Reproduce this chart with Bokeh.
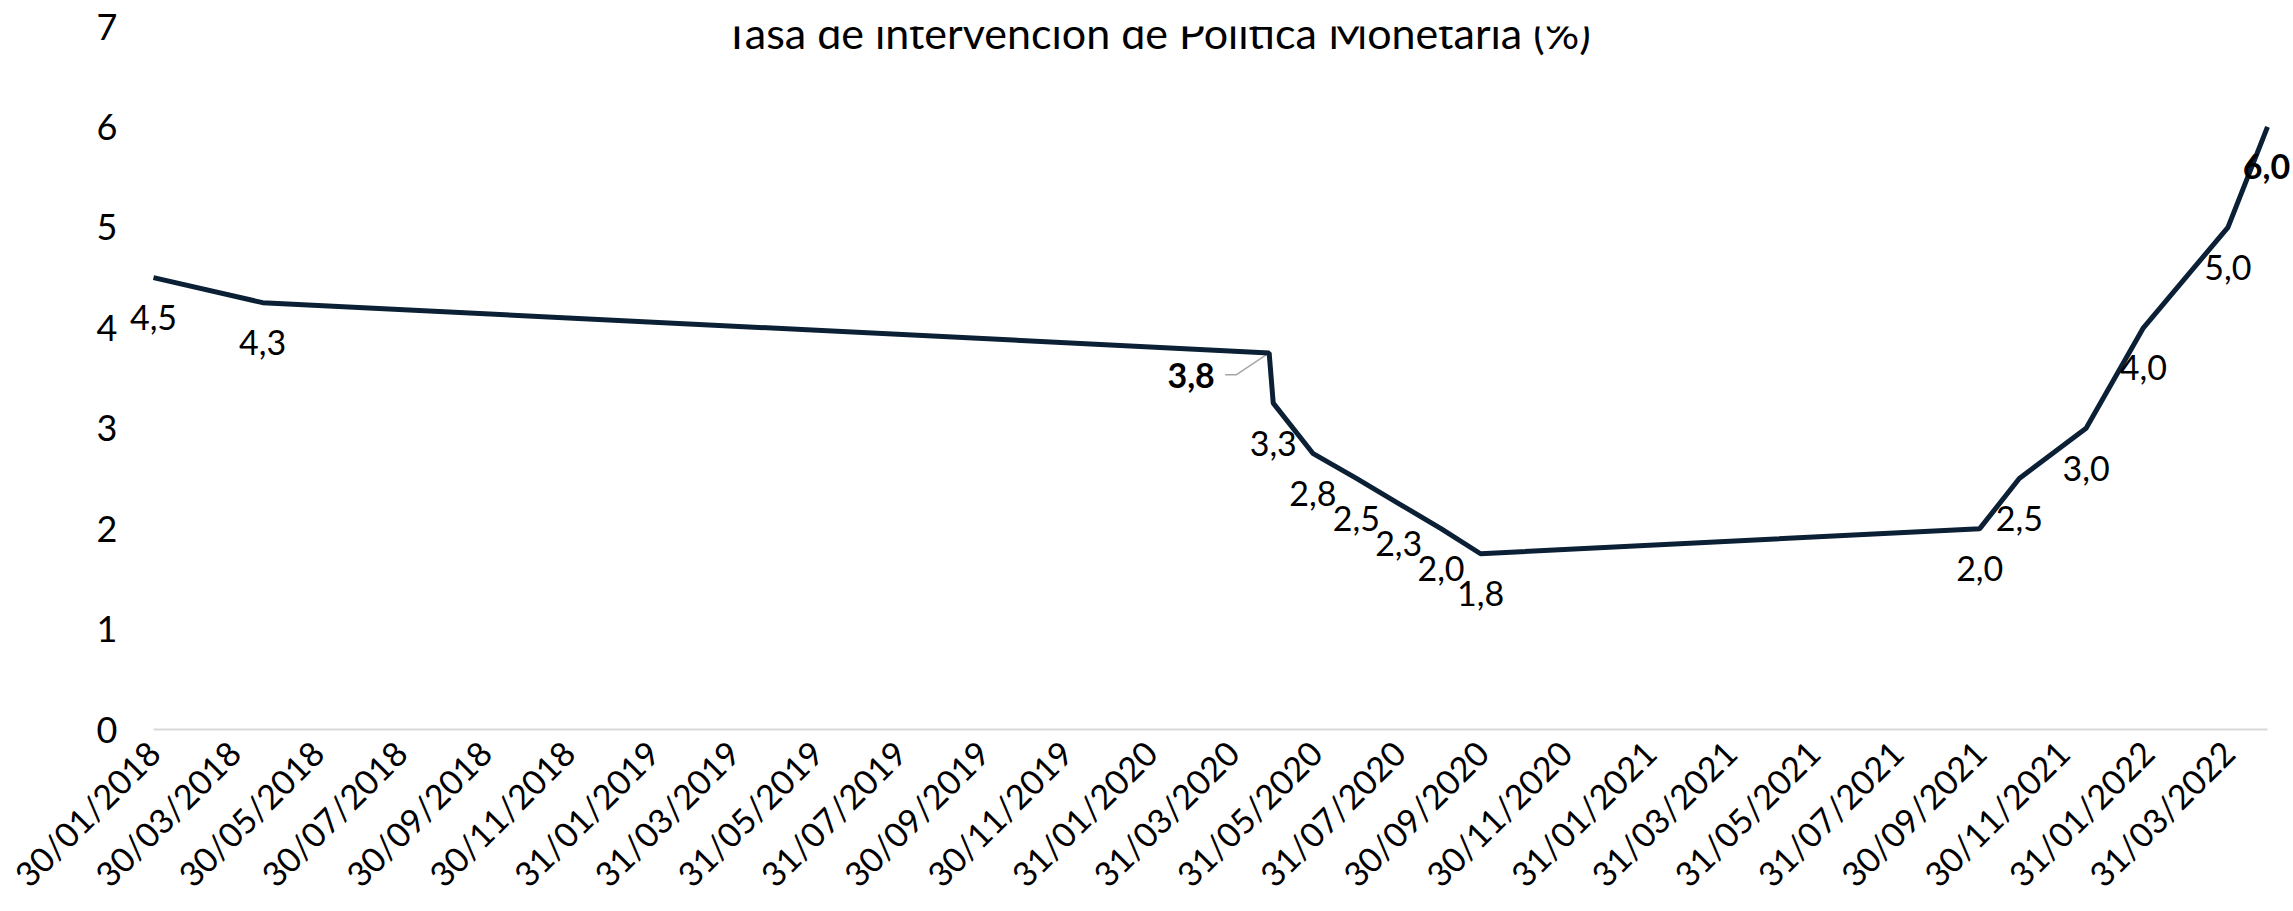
import pandas as pd
from math import pi
from bokeh.plotting import figure
from bokeh.core.properties import value
from bokeh.models import (ColumnDataSource, Range1d, FixedTicker,
                          DatetimeTickFormatter, LabelSet, Label)
from bokeh.embed import file_html
from bokeh.resources import INLINE

# ---------------- data ----------------
dates = ["2018-01-30", "2018-04-20", "2020-04-27", "2020-04-30", "2020-05-29",
         "2020-06-30", "2020-07-31", "2020-08-31", "2020-09-29", "2021-09-30",
         "2021-10-29", "2021-12-17", "2022-01-28", "2022-03-31", "2022-04-29"]
rates = [4.5, 4.25, 3.75, 3.25, 2.75, 2.5, 2.25, 2.0, 1.75, 2.0,
         2.5, 3.0, 4.0, 5.0, 6.0]
rate_labels = ["4,5", "4,3", "3,8", "3,3", "2,8", "2,5", "2,3", "2,0", "1,8",
               "2,0", "2,5", "3,0", "4,0", "5,0", "6,0"]
tick_dates = ["2018-01-30", "2018-03-30", "2018-05-30", "2018-07-30", "2018-09-30",
              "2018-11-30", "2019-01-31", "2019-03-31", "2019-05-31", "2019-07-31",
              "2019-09-30", "2019-11-30", "2020-01-31", "2020-03-31", "2020-05-31",
              "2020-07-31", "2020-09-30", "2020-11-30", "2021-01-31", "2021-03-31",
              "2021-05-31", "2021-07-31", "2021-09-30", "2021-11-30", "2022-01-31",
              "2022-03-31"]
y_ticks = [0, 1, 2, 3, 4, 5, 6, 7]
title_text = "Tasa de intervención de Politica Monetaría (%)"

# ---------------- layout constants (page pixels) ----------------
W, H = 2293, 911
FL, FR, FT, FB = 125, 2293, 26, 733      # frame edges
X0_PX, X1_PX, Y0_PX = 153, 2267, 730     # where first/last date and y=0 fall

LINE_COLOR = "#0b1f35"
TEXT_COLOR = "#000000"
FONT = "Lato"

x = pd.to_datetime(dates)
x_first, x_last = x[0], x[-1]
ms0 = x_first.value / 1e6
ms1 = x_last.value / 1e6
ms_per_px = (ms1 - ms0) / (X1_PX - X0_PX)
y_per_px = 7.0 / (Y0_PX - FT)

x_lo = ms0 - (X0_PX - FL) * ms_per_px
x_hi = ms1 + (FR - X1_PX) * ms_per_px
y_lo = -(FB - Y0_PX) * y_per_px

src = ColumnDataSource(dict(x=x, y=rates, t=rate_labels))

p = figure(width=W, height=H, x_axis_type="datetime",
           output_backend="svg", toolbar_location=None,
           x_range=Range1d(x_lo, x_hi), y_range=Range1d(y_lo, 7),
           min_border_left=FL, min_border_right=W - FR,
           min_border_top=FT, min_border_bottom=H - FB)
p.outline_line_color = None
p.xgrid.visible = False
p.ygrid.visible = False
p.background_fill_color = "white"
p.border_fill_color = "white"

# baseline grid line at 0, spanning the data period
p.line([x_first, x_last], [0, 0], line_color="#d9d9d9", line_width=2)

# leader line for the 3,8 label
i38 = 2
px38 = x[i38].value / 1e6
py38 = rates[i38]
p.line([px38 - 44 * ms_per_px, px38 - 33 * ms_per_px, px38],
       [py38 - 22 * y_per_px, py38 - 22 * y_per_px, py38],
       line_color="#a6a6a6", line_width=1.5)

p.line("x", "y", source=src, line_color=LINE_COLOR, line_width=5)

# data labels
i_last = len(rates) - 1
bold_idx = [i38, i_last]
norm_idx = [i for i in range(len(rates)) if i not in bold_idx]
src_norm = ColumnDataSource(dict(x=[x[i] for i in norm_idx],
                                 y=[rates[i] for i in norm_idx],
                                 t=[rate_labels[i] for i in norm_idx]))
p.add_layout(LabelSet(x="x", y="y", text="t", source=src_norm,
                      text_align="center", text_baseline="middle",
                      y_offset=-40, text_font=value(FONT),
                      text_font_size=value("34px"),
                      text_color=value(TEXT_COLOR)))
p.add_layout(Label(x=ms1, y=rates[i_last], text=rate_labels[i_last],
                   text_align="center", text_baseline="middle",
                   x_offset=-1, y_offset=-40, text_font=FONT,
                   text_font_size="34px", text_font_style="bold",
                   text_color=TEXT_COLOR))
p.add_layout(Label(x=px38, y=py38, text=rate_labels[i38],
                   text_align="center", text_baseline="middle",
                   x_offset=-78, y_offset=-23, text_font=FONT,
                   text_font_size="34px", text_font_style="bold",
                   text_color=TEXT_COLOR))

# title (partly cut at the top, as in the original)
p.add_layout(Label(x=ms0 + (1157 - X0_PX) * ms_per_px, y=7 - 6 * y_per_px,
                   text=title_text, text_align="center",
                   text_baseline="alphabetic", text_font=FONT,
                   text_font_size="43px", text_color=TEXT_COLOR))

# axes
tick_ms = [pd.Timestamp(d).value / 1e6 for d in tick_dates]
xa = p.xaxis[0]
xa.ticker = FixedTicker(ticks=tick_ms)
fmt = "%d/%m/%Y"
xa.formatter = DatetimeTickFormatter(days=fmt, months=fmt, years=fmt,
                                     hours=fmt, minutes=fmt, seconds=fmt,
                                     milliseconds=fmt, microseconds=fmt,
                                     hourmin=fmt, minsec=fmt)
xa.major_label_orientation = pi / 4
xa.axis_line_color = None
xa.major_tick_line_color = None
xa.minor_tick_line_color = None
xa.major_tick_out = 0
xa.major_tick_in = 0
xa.minor_tick_out = 0
xa.major_label_standoff = 14
xa.major_label_text_font = FONT
xa.major_label_text_font_size = "34px"
xa.major_label_text_color = TEXT_COLOR

ya = p.yaxis[0]
ya.ticker = FixedTicker(ticks=y_ticks)
ya.axis_line_color = None
ya.major_tick_line_color = None
ya.minor_tick_line_color = None
ya.major_tick_out = 0
ya.major_tick_in = 0
ya.minor_tick_out = 0
ya.major_label_standoff = 8
ya.major_label_text_font = FONT
ya.major_label_text_font_size = "36px"
ya.major_label_text_color = TEXT_COLOR

open("out.html", "w").write(file_html(p, INLINE))
